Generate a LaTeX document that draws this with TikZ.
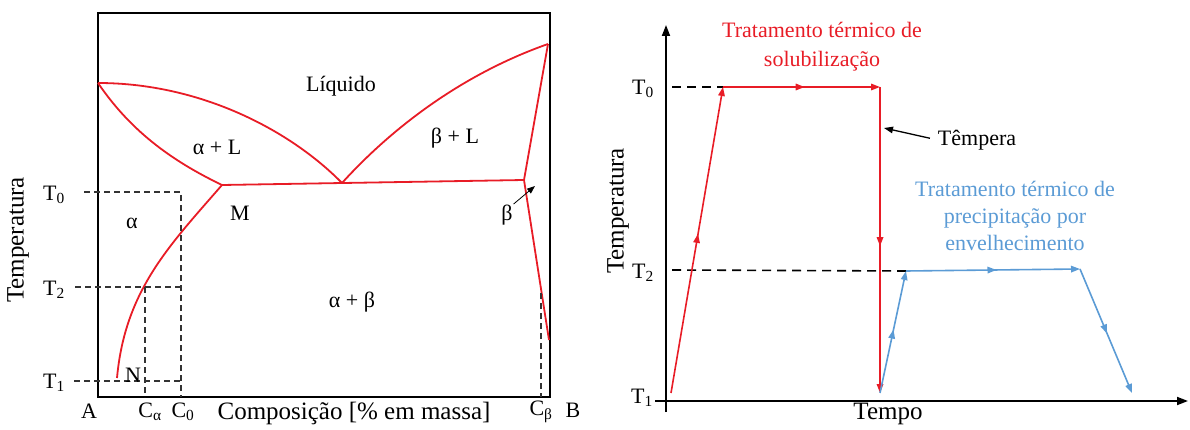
\documentclass[tikz,border=0pt]{standalone}
\usepackage{fontspec}
\setmainfont{Liberation Serif}
\usetikzlibrary{arrows.meta,decorations.markings}
\definecolor{pred}{RGB}{232,28,38}
\definecolor{pblue}{RGB}{91,155,213}
\begin{document}
\begin{tikzpicture}[x=1pt,y=-1pt,
  lbl/.style={font=\fontsize{22}{26}\selectfont, inner sep=0pt},
  axlbl/.style={font=\fontsize{25}{30}\selectfont, inner sep=0pt},
  phase/.style={pred, line width=1.8pt},
  guide/.style={black!80, line width=1.3pt, dash pattern=on 6pt off 4pt},
  bigguide/.style={black, line width=1.6pt, dash pattern=on 9pt off 6pt},
  flow/.style={line width=1.6pt, postaction=decorate,
    decoration={markings, mark=at position 0.52 with {\arrow{Triangle[length=9pt,width=6.5pt]}}},
    -{Triangle[length=9pt,width=6.5pt]}},
  axis/.style={line width=1.8pt, -{Triangle[length=11pt,width=8pt]}},
]
\useasboundingbox (0,0) rectangle (1190,430);

% ---------------- left: phase diagram ----------------
\draw[line width=1.5pt] (98,13) rectangle (550,397);

\coordinate (Ta) at (98,83);
\coordinate (E) at (342,183);
\coordinate (M) at (222,185);
\coordinate (Tb) at (548,44);
\coordinate (S) at (524,180);
\coordinate (Sb) at (549,340);
\coordinate (Nn) at (117,378);

\draw[phase] (Ta) .. controls (200,83) and (290,130) .. (E);
\draw[phase] (Ta) .. controls (130,130) and (170,160) .. (M);
\draw[phase] (M) -- (S);
\draw[phase] (E) .. controls (390,130) and (460,75) .. (Tb);
\draw[phase] (Tb) -- (S) -- (Sb);
\draw[phase] (M) .. controls (170,245) and (125,290) .. (Nn);

\draw[guide] (84,192) -| (181,397);
\draw[guide] (75,287) -- (181,287);
\draw[guide] (74,381) -- (181,381);
\draw[guide] (145,287) -- (145,397);
\draw[guide] (541,293) -- (541,397);

\node[lbl] (lT0) at (54,195) {T\textsubscript{0}};
\node[lbl] (lT2) at (54,290) {T\textsubscript{2}};
\node[lbl] (lT1) at (54,383) {T\textsubscript{1}};
\node[lbl] (lA) at (89,411) {A};
\node[lbl] (lCa) at (150,412) {C\textsubscript{α}};
\node[lbl] (lC0) at (183,412) {C\textsubscript{0}};
\node[lbl] (lCb) at (541,412) {C\textsubscript{β}};
\node[lbl] (lB) at (573,410) {B};
\node[axlbl] (lcomp) at (354,413) {Composição [\% em massa]};
\node[axlbl, rotate=90] (ltemp) at (18,240) {Temperatura};

\node[lbl] (liq) at (341,86) {Líquido};
\node[lbl] (aL) at (217,147) {α + L};
\node[lbl] (bL) at (455,138) {β + L};
\node[lbl] (ra) at (132,223) {α};
\node[lbl] (rM) at (240,213) {M};
\node[lbl] (rab) at (352,302) {α + β};
\node[lbl] (rb) at (507,215) {β};
\node[lbl] (rN) at (133,375) {N};
\coordinate (bp) at (535,186);
\draw[line width=0.8pt, black, -{Triangle[length=8pt,width=6pt]}, shorten <=1pt] (rb.north east) -- (bp);

% ---------------- right: heat treatment ----------------
\coordinate (yb) at (666,412);
\coordinate (yt) at (666,25);
\coordinate (xl) at (655,401);
\coordinate (xr) at (1188,401);
\draw[axis] (yb) -- (yt);
\draw[axis] (xl) -- (xr);

\coordinate (r0) at (671,393);
\coordinate (r1) at (723,87);
\coordinate (r2) at (880,87);
\coordinate (r3) at (880,393);
\coordinate (b1) at (906,271);
\coordinate (b2) at (1080,269);
\coordinate (b3) at (1132,393);

\draw[bigguide] (672,87) -- (r1);
\draw[bigguide] (672,270) -- (b1);

\draw[flow, pred] (r0) -- (r1);
\draw[flow, pred] (r1) -- (r2);
\draw[flow, pred] (r2) -- (r3);
\draw[flow, pblue] (r3) -- (b1);
\draw[flow, pblue] (b1) -- (b2);
\draw[flow, pblue] (b2) -- (b3);

\node[lbl] (rT0) at (643,89) {T\textsubscript{0}};
\node[lbl] (rT2) at (643,273) {T\textsubscript{2}};
\node[lbl] (rT1) at (642,398) {T\textsubscript{1}};
\node[axlbl] (rtempo) at (888,414) {Tempo};
\node[axlbl, rotate=90] (rtemp) at (618,211) {Temperatura};

\node[lbl, pred, align=center, font=\fontsize{22}{29}\selectfont] (sol) at (822,47) {Tratamento térmico de\\solubilização};
\node[lbl, pblue, align=center, font=\fontsize{22}{27}\selectfont] (prec) at (1015,216) {Tratamento térmico de\\precipitação por\\envelhecimento};

\node[lbl] (tempera) at (977,140) {Têmpera};
\coordinate (qpt) at (884,128);
\draw[line width=1.3pt, -{Triangle[length=9pt,width=6.5pt]}, shorten <=8pt] (tempera.west) -- (qpt);
\end{tikzpicture}
\end{document}
